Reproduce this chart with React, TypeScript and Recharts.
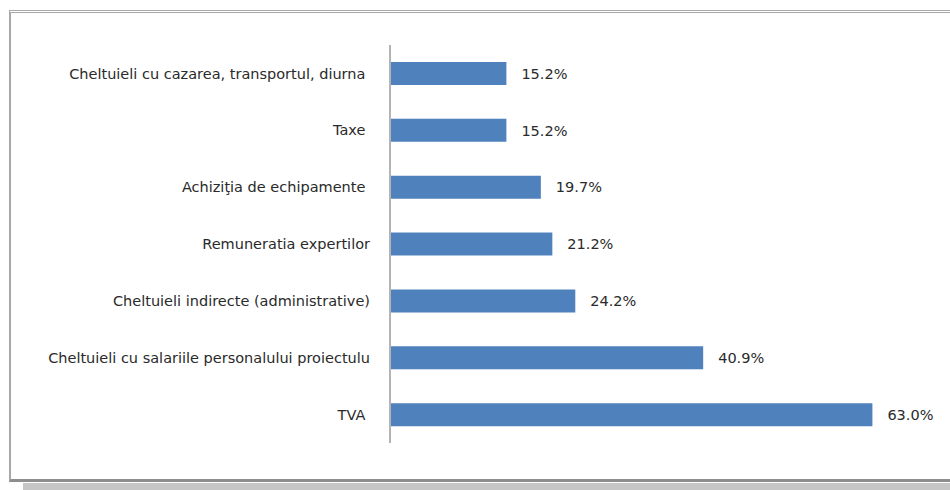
import React from 'react';
import { BarChart, Bar, XAxis, YAxis, LabelList } from 'recharts';

// categories, top to bottom
const categories = [
  'Cheltuieli cu cazarea, transportul, diurna\u00a0',
  'Taxe\u00a0',
  'Achiziţia de echipamente\u00a0',
  'Remuneratia expertilor',
  'Cheltuieli indirecte (administrative)',
  'Cheltuieli cu salariile  personalului proiectulu',
  'TVA\u00a0',
];

const shares = [15.2, 15.2, 19.7, 21.2, 24.2, 40.9, 63.0];

const xTicks = [0, 10, 20, 30, 40, 50, 60, 70];

const data = categories.map((name, i) => ({ name, value: shares[i] }));

const textStyle = { fill: '#2a2a2a', fontSize: 14.5, fontFamily: 'DejaVu Sans', whiteSpace: 'pre' as const };

export default function App() {
  return (
    <div
      style={{
        position: 'absolute',
        left: 0,
        top: 0,
        width: 950,
        height: 490,
        overflow: 'hidden',
        background: '#fff',
      }}
    >
      <div
        style={{
          position: 'absolute',
          left: 9,
          top: 10,
          width: 980,
          height: 466,
          borderTop: '3px double #a8a8a8',
          borderLeft: '2px solid #a8a8a8',
          borderBottom: '3px solid #8e8e8e',
        }}
      />
      <div
        style={{
          position: 'absolute',
          left: 23,
          top: 483,
          width: 940,
          height: 7,
          background: '#c6c6c6',
        }}
      />
      <div style={{ position: 'absolute', left: 0, top: 0 }}>
        <BarChart
          width={950}
          height={490}
          data={data}
          layout="vertical"
          margin={{ top: 45, right: 24, bottom: 47, left: 0 }}
        >
          <XAxis type="number" domain={[0, 70]} ticks={xTicks} hide />
          <YAxis
            type="category"
            dataKey="name"
            width={390}
            tickLine={false}
            tickSize={0}
            tickMargin={20}
            axisLine={{ stroke: '#b4b4b4', strokeWidth: 2 }}
            interval={0}
            tick={textStyle}
          />
          <Bar dataKey="value" fill="#4f81bd" barSize={23} isAnimationActive={false}>
            <LabelList
              dataKey="value"
              position="right"
              offset={15}
              formatter={(v: number) => `${v.toFixed(1)}%`}
              style={textStyle}
            />
          </Bar>
        </BarChart>
      </div>
    </div>
  );
}
